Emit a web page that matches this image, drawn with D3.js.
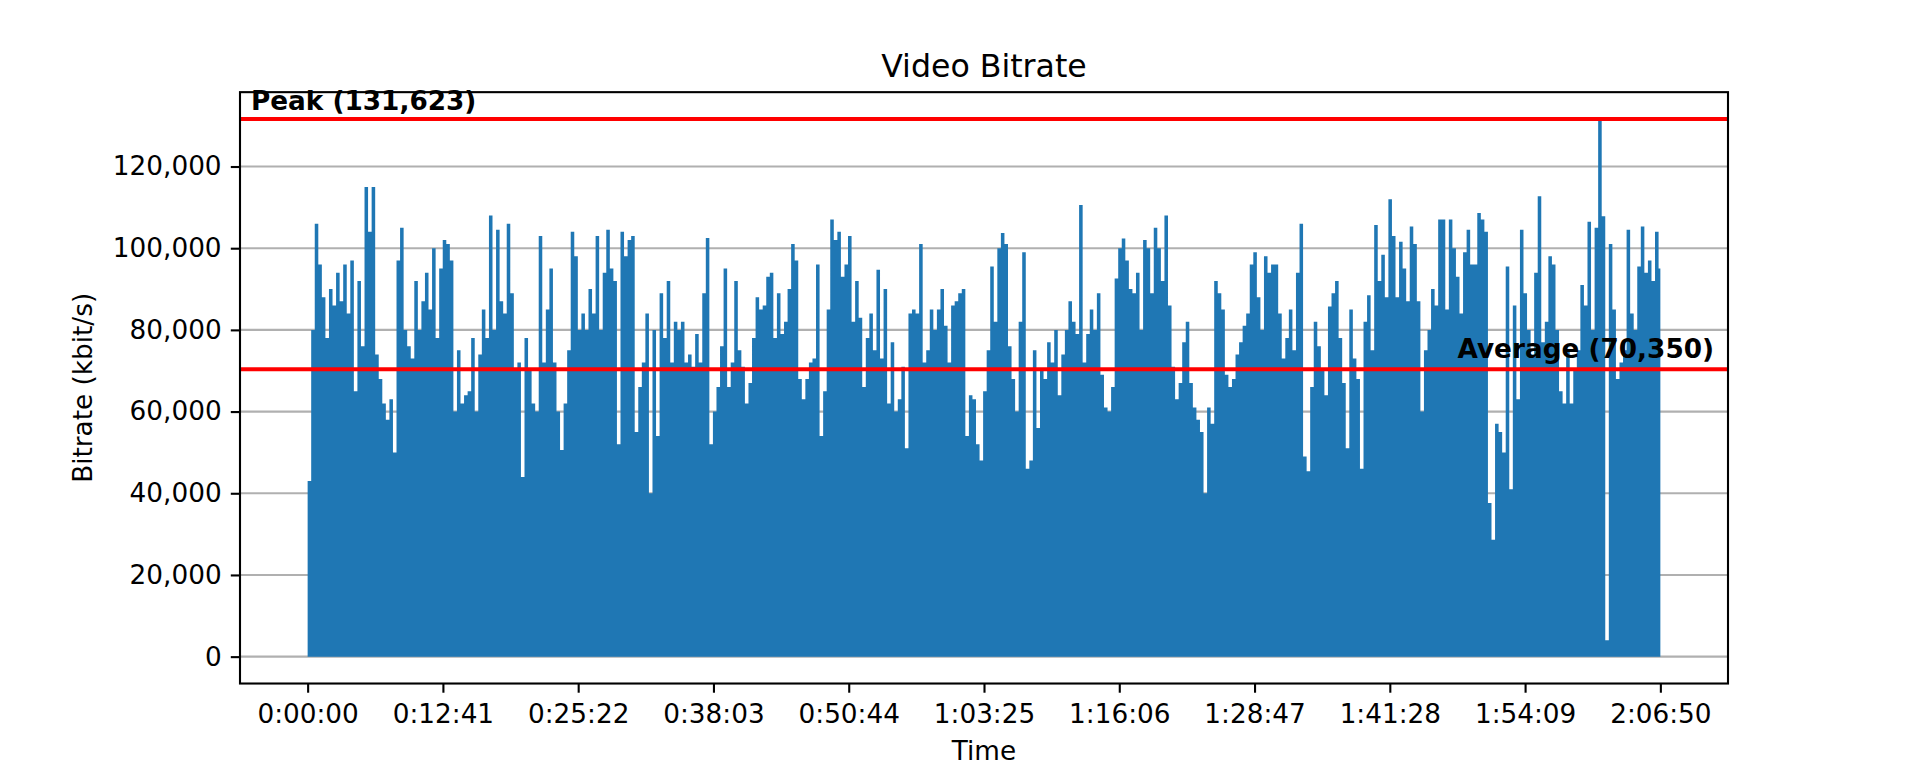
<!DOCTYPE html>
<html>
<head>
<meta charset="utf-8">
<script src="https://cdn.jsdelivr.net/npm/d3@7"></script>
<style>
  body { margin: 0; background: #fff; }
  svg { display: block; }
</style>
</head>
<body>
<script>
// chart values
const durationSec = 7610;      // 2:06:50
const sampleStepSec = 20;      // one reading every 20 s
const peakBitrate = 131623;
const avgBitrate = 70350;

// kbit/s, one value per 20 s step
const bitrateKbps = [
  // 0:00:00 - 0:31:40
  43000, 80000, 106000, 96000, 88000, 78000, 90000, 86000, 94000, 87000,
  96000, 84000, 97000, 65000, 92000, 76000, 115000, 104000, 115000, 74000,
  68000, 62000, 58000, 63000, 50000, 97000, 105000, 80000, 76000, 73000,
  92000, 80000, 87000, 94000, 85000, 100000, 78000, 95000, 102000, 101000,
  97000, 60000, 75000, 62000, 64000, 65000, 78000, 60000, 74000, 85000,
  78000, 108000, 80000, 104500, 87000, 84000, 106000, 89000, 70000, 72000,
  44000, 78000, 70000, 62000, 60000, 103000, 72000, 85000, 95000, 72000,
  60000, 50600, 62000, 75000, 104000, 98000, 80000, 84000, 80000, 90000,
  84000, 103000, 80000, 94000, 104500, 95000, 92000, 52000, 104000, 98000,
  102000, 103000, 55000, 66000, 72000,
  // 0:31:40 - 1:03:40
  84000, 40000, 80000, 54000, 89000, 78000, 92000, 72000, 82000, 80000,
  82000, 72000, 74000, 71000, 79000, 72000, 89000, 102500, 52000, 60000,
  66000, 76000, 95000, 66000, 72000, 92000, 75000, 71000, 62000, 67000,
  78000, 88000, 85000, 86000, 93000, 94000, 78000, 89000, 79000, 82000,
  90000, 101000, 97000, 68000, 63000, 68000, 72000, 73000, 96000, 54000,
  65000, 85000, 107000, 102000, 104000, 93000, 96000, 103000, 82000, 92000,
  83000, 66000, 78000, 84000, 75000, 94700, 73000, 90000, 62000, 77000,
  60000, 63000, 71000, 51000, 84000, 85000, 84000, 101000, 72000, 75000,
  85000, 80000, 85000, 90000, 81000, 72000, 86000, 87000, 89000, 90000,
  54000, 64000, 63000, 52000, 48000, 65000,
  // 1:03:40 - 1:35:20
  75000, 95500, 82000, 100000, 103700, 101000, 76000, 68000, 60000, 82000,
  99000, 46000, 48000, 75000, 56000, 70000, 68000, 77000, 72000, 80000,
  64000, 74000, 80000, 87000, 82000, 79000, 110600, 72000, 79000, 85000,
  80000, 89000, 69000, 61000, 60000, 66000, 92600, 100000, 102400, 97000,
  90000, 89000, 94000, 80000, 102000, 100000, 89000, 105000, 100000, 92000,
  108000, 86000, 71000, 63000, 67000, 77000, 82000, 67000, 61000, 58000,
  55000, 40000, 61000, 57000, 92000, 89000, 85000, 69000, 66000, 68000,
  74000, 77000, 81000, 84000, 96000, 99000, 88000, 80000, 98000, 94000,
  96000, 96000, 84000, 73000, 78000, 85000, 75000, 94000, 106000, 49000,
  45400, 66000, 82000, 76000, 70000,
  // 1:35:20 - 2:06:50
  64000, 85700, 89000, 92000, 78000, 67000, 51000, 85000, 73000, 68000,
  46000, 82000, 88500, 75000, 105700, 92000, 98400, 88000, 112000, 103000,
  88000, 101600, 95000, 87000, 105300, 101000, 87000, 60000, 75000, 80000,
  90000, 86000, 107000, 107000, 85000, 107000, 100000, 93000, 84000, 99000,
  104500, 96000, 96000, 108600, 107000, 104000, 37600, 28600, 57000, 55000,
  50000, 95500, 41000, 86000, 63000, 104500, 89000, 80000, 74000, 94000,
  112700, 77000, 82000, 98000, 96000, 80000, 65000, 62000, 75000, 62000,
  70000, 75000, 91000, 86000, 106500, 80000, 105000, 131623, 107800, 4000,
  101000, 85000, 68000, 72000, 75000, 104500, 84000, 80000, 95500, 105300,
  94000, 97000, 92000, 104000, 95000
];

const yTicks = [0, 20000, 40000, 60000, 80000, 100000, 120000];
const xTickSeconds = [0, 761, 1522, 2283, 3044, 3805, 4566, 5327, 6088, 6849, 7610];
const xTickLabels = ["0:00:00", "0:12:41", "0:25:22", "0:38:03", "0:50:44",
  "1:03:25", "1:16:06", "1:28:47", "1:41:28", "1:54:09", "2:06:50"];

// layout (matplotlib default subplot box on a 1920x768 canvas)
const width = 1920;
const height = 768;
const box = {left: 240, right: 1728, top: 92.16, bottom: 683.52};
const font = "'DejaVu Sans', sans-serif";
const fs = 26.3;

const x = d3.scaleLinear()
  .domain([-0.05 * durationSec, 1.05 * durationSec])
  .range([box.left, box.right]);
const y = d3.scaleLinear()
  .domain([-0.05 * peakBitrate, 1.05 * peakBitrate])
  .range([box.bottom, box.top]);

const svg = d3.select("body").append("svg")
  .attr("width", width)
  .attr("height", height)
  .style("font-family", font);

svg.append("rect").attr("width", width).attr("height", height).attr("fill", "#fff");

svg.append("defs").append("clipPath").attr("id", "plotclip")
  .append("rect")
  .attr("x", box.left).attr("y", box.top)
  .attr("width", box.right - box.left).attr("height", box.bottom - box.top);

// horizontal grid, under the data
svg.append("g").selectAll("line")
  .data(yTicks)
  .join("line")
  .attr("x1", box.left).attr("x2", box.right)
  .attr("y1", d => y(d)).attr("y2", d => y(d))
  .attr("stroke", "#b0b0b0")
  .attr("stroke-width", 2.1);

// bitrate fill, one flat step per reading
const pts = bitrateKbps.map((v, i) => ({t: i * sampleStepSec, v: v}));
pts.push({t: durationSec, v: bitrateKbps[bitrateKbps.length - 1]});

const area = d3.area()
  .x(d => x(d.t))
  .y0(y(0))
  .y1(d => y(d.v))
  .curve(d3.curveStepAfter);

svg.append("path")
  .datum(pts)
  .attr("clip-path", "url(#plotclip)")
  .attr("d", area)
  .attr("fill", "#1f77b4");

// peak and average lines
const refLines = [
  {value: peakBitrate, label: `Peak (${d3.format(",")(peakBitrate)})`, anchor: "start", lx: 251, dy: -9},
  {value: avgBitrate, label: `Average (${d3.format(",")(avgBitrate)})`, anchor: "end", lx: 1714, dy: -11}
];

svg.append("g").selectAll("line")
  .data(refLines)
  .join("line")
  .attr("x1", box.left).attr("x2", box.right)
  .attr("y1", d => y(d.value)).attr("y2", d => y(d.value))
  .attr("stroke", "#ff0000")
  .attr("stroke-width", 3.9);

svg.append("g").selectAll("text")
  .data(refLines)
  .join("text")
  .attr("x", d => d.lx)
  .attr("y", d => y(d.value) + d.dy)
  .attr("text-anchor", d => d.anchor)
  .attr("font-size", fs)
  .attr("font-weight", "bold")
  .attr("fill", "#000")
  .text(d => d.label);

// axes
const yAxis = d3.axisLeft(y)
  .tickValues(yTicks)
  .tickFormat(d3.format(","))
  .tickSize(9.2)
  .tickPadding(9.2);
const gy = svg.append("g")
  .attr("transform", `translate(${box.left},0)`)
  .call(yAxis);

const xAxis = d3.axisBottom(x)
  .tickValues(xTickSeconds)
  .tickFormat((d, i) => xTickLabels[i])
  .tickSize(9.2)
  .tickPadding(9.2);
const gx = svg.append("g")
  .attr("transform", `translate(0,${box.bottom})`)
  .call(xAxis);
gx.selectAll("text").attr("dy", "0.8em");

[gx, gy].forEach(g => {
  g.select(".domain").remove();
  g.selectAll(".tick line").attr("stroke", "#000").attr("stroke-width", 2.1);
  g.selectAll(".tick text")
    .attr("fill", "#000")
    .attr("font-size", fs)
    .attr("font-family", font);
});

// spines
svg.append("rect")
  .attr("x", box.left).attr("y", box.top)
  .attr("width", box.right - box.left).attr("height", box.bottom - box.top)
  .attr("fill", "none")
  .attr("stroke", "#000")
  .attr("stroke-width", 2.1);

// title and axis labels
svg.append("text")
  .attr("x", (box.left + box.right) / 2)
  .attr("y", 76.5)
  .attr("text-anchor", "middle")
  .attr("font-size", 31.6)
  .text("Video Bitrate");

svg.append("text")
  .attr("x", (box.left + box.right) / 2)
  .attr("y", 760)
  .attr("text-anchor", "middle")
  .attr("font-size", fs)
  .text("Time");

svg.append("text")
  .attr("transform", `translate(92,${(box.top + box.bottom) / 2}) rotate(-90)`)
  .attr("text-anchor", "middle")
  .attr("font-size", fs)
  .text("Bitrate (kbit/s)");
</script>
</body>
</html>
